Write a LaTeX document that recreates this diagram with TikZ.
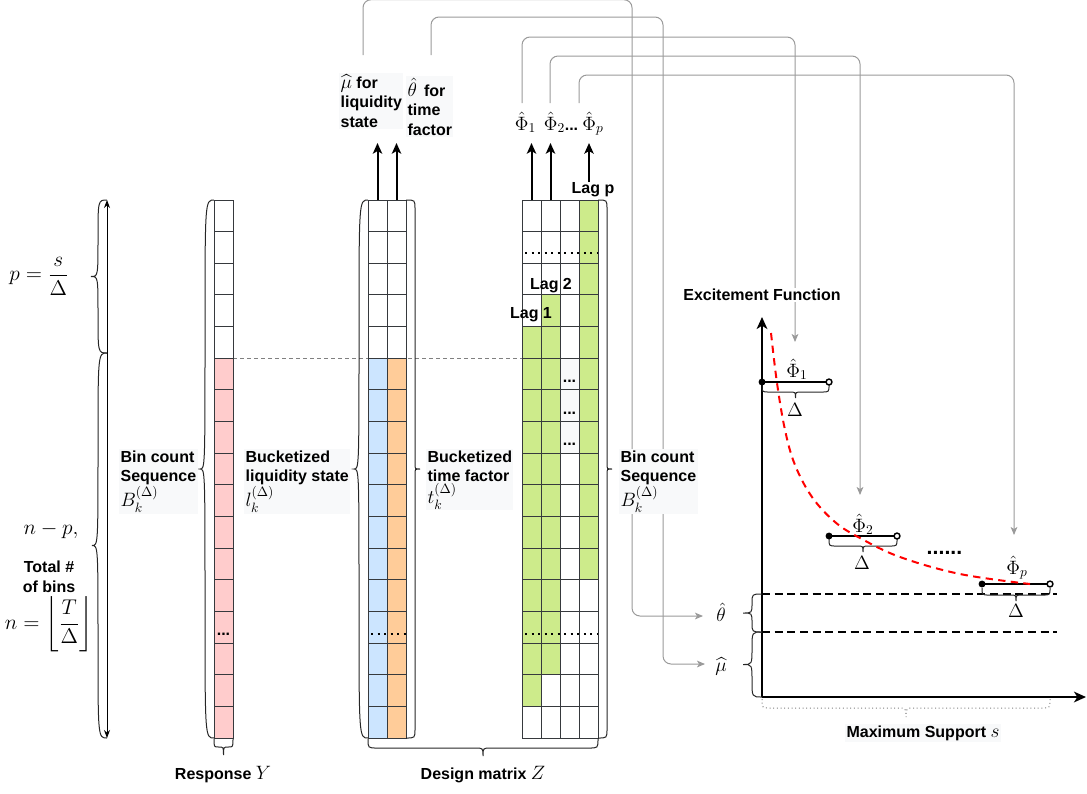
\RequirePackage{fix-cm}
\documentclass[tikz,border=0pt]{standalone}
\usepackage{amsmath}
\usepackage{fontspec}
\setmainfont{Liberation Sans}
\usetikzlibrary{arrows.meta,calc}
\definecolor{pinkc}{HTML}{FFCCCC}
\definecolor{bluec}{HTML}{CCE5FF}
\definecolor{orangec}{HTML}{FFCC99}
\definecolor{greenc}{HTML}{CDEB8B}
\definecolor{gridc}{HTML}{36393D}
\definecolor{connc}{HTML}{9A9A9A}
\definecolor{labbg}{HTML}{F8F9FA}
\newcommand{\MM}[1]{{\fontsize{14.5}{16}\selectfont$#1$}}
\newcommand{\myVbrace}[6]{%
  \pgfmathsetmacro\bym{((#3)+(#4))/2}%
  \pgfmathsetmacro\byra{min(abs(#5),((#4)-(#3))/4)}%
  \pgfmathsetmacro\byrb{min(abs((#6)-(#5)),((#4)-(#3))/4)}%
  \pgfmathsetmacro\bys{(#2)+(#5)}%
  \pgfmathsetmacro\byd{(#2)+(#6)}%
  \draw[#1] (#2,#3) .. controls (\bys,#3) .. (\bys,{(#3)+\byra})
    -- (\bys,{\bym-\byrb}) .. controls (\bys,\bym) .. (\byd,\bym)
    .. controls (\bys,\bym) .. (\bys,{\bym+\byrb})
    -- (\bys,{(#4)-\byra}) .. controls (\bys,#4) .. (#2,#4);}
\newcommand{\myHbrace}[6]{%
  \pgfmathsetmacro\bxm{((#3)+(#4))/2}%
  \pgfmathsetmacro\bxra{min(abs(#5),((#4)-(#3))/4)}%
  \pgfmathsetmacro\bxrb{min(abs((#6)-(#5)),((#4)-(#3))/4)}%
  \pgfmathsetmacro\bxs{(#2)+(#5)}%
  \pgfmathsetmacro\bxd{(#2)+(#6)}%
  \draw[#1] (#3,#2) .. controls (#3,\bxs) .. ({(#3)+\bxra},\bxs)
    -- ({\bxm-\bxrb},\bxs) .. controls (\bxm,\bxs) .. (\bxm,\bxd)
    .. controls (\bxm,\bxs) .. ({\bxm+\bxrb},\bxs)
    -- ({(#4)-\bxra},\bxs) .. controls (#4,\bxs) .. (#4,#2);}
\begin{document}
\begin{tikzpicture}[x=0.75pt,y=-0.75pt,
  cell/.style={draw=gridc,line width=0.75pt},
  lbl/.style={font=\fontsize{12}{14.6}\selectfont\bfseries,inner sep=1pt,align=left},
  bg/.style={fill=labbg},
  upar/.style={line width=1.5pt,-{Stealth[length=8pt,width=7pt,inset=2pt]}},
  conn/.style={draw=connc,line width=0.75pt,rounded corners=6pt,-{Stealth[length=6pt,width=5pt,inset=1.5pt]}},
  dotrow/.style={line width=1.6pt,dash pattern=on 1.6pt off 3.3pt},
  brc/.style={draw=black!85,line width=0.75pt},
  axis/.style={line width=1.5pt,-{Stealth[length=9pt,width=8pt,inset=2.5pt]}},
  seg/.style={line width=1.5pt},
  hdash/.style={line width=1.1pt,dash pattern=on 6pt off 3.5pt},
  mth/.style={font=\fontsize{14.5}{16}\selectfont,inner sep=1pt},
  bigmth/.style={font=\fontsize{16}{18}\selectfont,inner sep=1pt}]
\path[use as bounding box] (0,0) rectangle (1087,793);
\def\rh{31.647}

% ---------- gray connectors (underneath) ----------
\coordinate (muS) at (363,55);
\coordinate (thS) at (431,55);
\coordinate (p1S) at (522,103);
\coordinate (p2S) at (550,103);
\coordinate (ppS) at (579,103);
\coordinate (thE) at (703,616);
\coordinate (muE) at (705,664);
\coordinate (p1E) at (795,342);
\coordinate (p2E) at (860,495);
\coordinate (ppE) at (1014,535);
\draw[conn] (muS) -- (363,-0.3) -- (632,-0.3) -- (632,616) -- (thE);
\draw[conn] (thS) -- (431,17) -- (663,17) -- (663,664) -- (muE);
\draw[conn] (p1S) -- (522,37) -- (795,37) -- (p1E);
\draw[conn] (p2S) -- (550,56) -- (860,56) -- (p2E);
\draw[conn] (ppS) -- (579,75) -- (1014,75) -- (ppE);

% ---------- dashed alignment line ----------
\draw[gray,line width=0.75pt,dash pattern=on 3pt off 2.25pt] (233,358.2) -- (522,358.2);

% ---------- columns ----------
\fill[pinkc] (214,{200+5*\rh}) rectangle (233,738);
\fill[bluec] (368,{200+5*\rh}) rectangle (387,738);
\fill[orangec] (387,{200+5*\rh}) rectangle (406,738);
\fill[greenc] (522,{200+4*\rh}) rectangle (541,{200+16*\rh});
\fill[greenc] (541,{200+3*\rh}) rectangle (560,{200+15*\rh});
\fill[greenc] (579,200) rectangle (598,{200+12*\rh});
\foreach \r in {5,6,7} \fill[labbg] (560,{200+\r*\rh}) rectangle (579,{200+(\r+1)*\rh});
\foreach \c in {214,368,387,522,541,560,579}
  \foreach \r in {0,...,16}
    \draw[cell] (\c,{200+\r*\rh}) rectangle ++(19,\rh);

% dotted rows
\draw[dotrow] (525,253) -- (598,253);
\draw[dotrow] (525,634) -- (598,634);
\draw[dotrow] (371,634) -- (406,634);
\node[lbl,anchor=base] (dresp) at (223.5,635) {...};
\node[lbl,anchor=base] (dc5) at (569.5,382) {...};
\node[lbl,anchor=base] (dc6) at (569.5,414) {...};
\node[lbl,anchor=base] (dc7) at (569.5,445) {...};

% lag labels
\node[lbl] (lag1) at (531,315) {Lag 1};
\node[lbl] (lag2) at (551,286) {Lag 2};
\node[lbl] (lagp) at (593,190) {Lag p};

% ---------- braces around columns ----------
\myVbrace{brc}{214}{738}{200}{-9}{-14}
\myVbrace{brc}{368}{738}{200}{-9}{-14}
\myVbrace{brc}{406}{200}{738}{9}{14}
\myVbrace{brc}{598}{200}{738}{9}{14}
\myHbrace{brc}{739}{214}{233}{8}{16}
\myHbrace{brc}{739}{368}{598}{9}{17}

% ---------- upward arrows and estimates ----------
\coordinate (cB) at (377.5,200); \coordinate (tB) at (377.5,143);
\coordinate (cO) at (396.5,200); \coordinate (tO) at (396.5,143);
\coordinate (cG1) at (531.5,200); \coordinate (tG1) at (531.5,143);
\coordinate (cG2) at (550.5,200); \coordinate (tG2) at (550.5,143);
\coordinate (cGp) at (589,182); \coordinate (tGp) at (589,143);
\draw[upar] (cB) -- (tB);
\draw[upar] (cO) -- (tO);
\draw[upar] (cG1) -- (tG1);
\draw[upar] (cG2) -- (tG2);
\draw[upar] (cGp) -- (tGp);

\node[lbl,bg,anchor=north west] (mulab) at (339,73) {\MM{\widehat{\mu}} for\\liquidity\\state};
\node[lbl,bg,anchor=north west] (thlab) at (406,76) {\MM{\hat{\theta}}\, for\\time\\factor};
\node[mth,anchor=base] (phi1) at (525.5,130) {$\hat{\Phi}_1$};
\node[mth,anchor=base] (phi2) at (554.5,130) {$\hat{\Phi}_2$};
\node[lbl,anchor=base] (phid) at (571.5,130) {...};
\node[mth,anchor=base] (phip) at (593,130) {$\hat{\Phi}_p$};

% ---------- left annotations ----------
\coordinate (aTop) at (107,200);
\coordinate (aBot) at (107,738);
\draw[line width=0.75pt,{Stealth[length=6pt,width=4.5pt]}-{Stealth[length=6pt,width=4.5pt]}] (aTop) -- (aBot);
\myVbrace{brc}{107}{353}{200}{-9}{-16}
\myVbrace{brc}{107}{738}{353}{-9}{-15}
\node[bigmth] (pexpr) at (39,276) {$p=\dfrac{s}{\Delta}$};
\node[bigmth] (npexpr) at (51,530) {$n-p,$};
\node[lbl,align=center] (total) at (49,577) {Total \#\\of bins};
\node[bigmth] (nexpr) at (49,624) {$n=\left\lfloor\dfrac{T}{\Delta}\right\rfloor$};

% ---------- column labels ----------
\node[lbl,bg,anchor=north west] (binL) at (119,449) {Bin count\\Sequence\\\MM{B_k^{(\Delta)}}};
\node[lbl,bg,anchor=north west] (liqL) at (244,449) {Bucketized\\liquidity state\\\MM{l_k^{(\Delta)}}};
\node[lbl,bg,anchor=north west] (timeL) at (426,449) {Bucketized\\time factor\\\MM{t_k^{(\Delta)}}};
\node[lbl,bg,anchor=north west] (binR) at (619,449) {Bin count\\Sequence\\\MM{B_k^{(\Delta)}}};
\node[lbl] (respL) at (223,775) {Response \MM{Y}};
\node[lbl] (desL) at (483,775) {Design matrix \MM{Z}};

% ---------- excitement function chart ----------
\node[lbl,fill=white] (exc) at (762,295) {Excitement Function};
\coordinate (O) at (762,697);
\coordinate (yTop) at (762,317);
\coordinate (xEnd) at (1086,697);
\draw[axis] (O) -- (yTop);
\draw[axis] (O) -- (xEnd);

\draw[hdash] (762,594) -- (1057,594);
\draw[hdash] (762,632) -- (1057,632);
\myVbrace{brc}{762}{632}{594}{-10}{-19}
\myVbrace{brc}{762}{697}{632}{-10}{-19}
\node[mth] (cth) at (721,612) {$\hat{\theta}$};
\node[mth] (cmu) at (721,666) {$\widehat{\mu}$};

\coordinate (s1a) at (762,382); \coordinate (s1b) at (829,382);
\coordinate (s2a) at (829,536); \coordinate (s2b) at (897,536);
\coordinate (spa) at (982,584); \coordinate (spb) at (1050,584);
\draw[seg] (s1a) -- (s1b);
\draw[seg] (s2a) -- (s2b);
\draw[seg] (spa) -- (spb);
\myHbrace{brc}{385}{762}{829}{7}{13}
\myHbrace{brc}{539}{829}{897}{7}{13}
\myHbrace{brc}{588}{982}{1050}{7}{13}

\draw[red,line width=1.5pt,dash pattern=on 5.5pt off 4pt] plot[smooth,tension=0.6] coordinates {(771,333) (777,383) (785,430) (795,465) (812,497) (835,522) (860,538) (900,557) (960,574) (1030,584)};

\foreach \p in {s1a,s2a,spa} \fill (\p) circle (2.6pt);
\foreach \p in {s1b,s2b,spb} \draw[line width=1.1pt,fill=white] (\p) circle (2.2pt);

\node[mth,anchor=base] (cphi1) at (797,377) {$\hat{\Phi}_1$};
\node[mth,anchor=base] (cphi2) at (863,532) {$\hat{\Phi}_2$};
\node[mth,anchor=base] (cphip) at (1017,574) {$\hat{\Phi}_p$};
\node[mth] (del1) at (795,410) {$\Delta$};
\node[mth] (del2) at (862,563) {$\Delta$};
\node[mth] (delp) at (1016,611) {$\Delta$};
\node[font=\fontsize{16}{18}\selectfont\bfseries,anchor=base,inner sep=0pt] (cdots) at (944.5,554) {......};

\myHbrace{draw=gray,line width=0.75pt,dotted}{699}{762}{1050}{9}{18}
\node[lbl,bg] (maxs) at (923,733) {Maximum Support \MM{s}};
\end{tikzpicture}
\end{document}
